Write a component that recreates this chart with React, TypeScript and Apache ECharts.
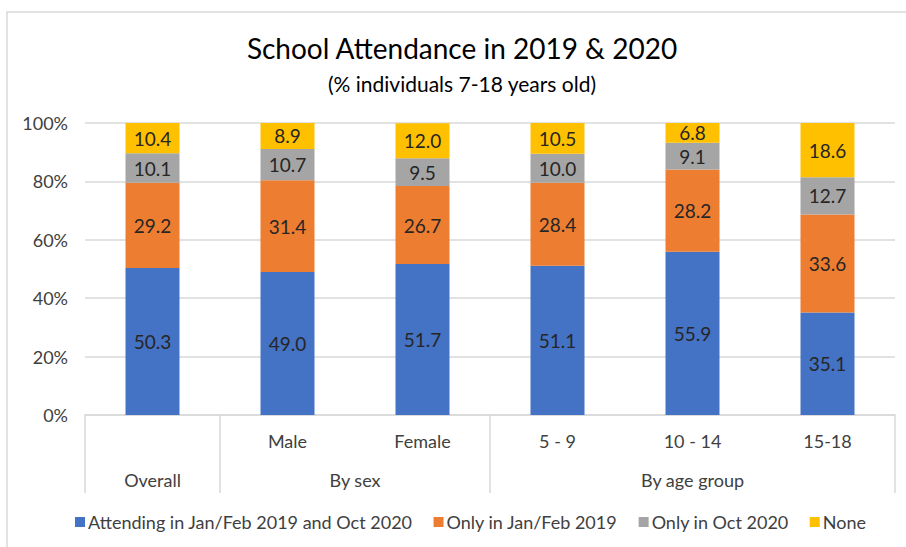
import React, { useEffect, useRef } from "react";
import * as echarts from "echarts";

const titleText = "School Attendance in 2019 & 2020";
const subtitleText = "(% individuals 7-18 years old)";
const categories = ["", "Male", "Female", "5 - 9", "10 - 14", "15-18"];
const groups = [
  { label: "Overall", start: 0, end: 0 },
  { label: "By sex", start: 1, end: 2 },
  { label: "By age group", start: 3, end: 5 },
];
const seriesNames = [
  "Attending in Jan/Feb 2019 and Oct 2020",
  "Only in Jan/Feb 2019",
  "Only in Oct 2020",
  "None",
];
const attendingBoth = [50.3, 49.0, 51.7, 51.1, 55.9, 35.1];
const onlyJanFeb2019 = [29.2, 31.4, 26.7, 28.4, 28.2, 33.6];
const onlyOct2020 = [10.1, 10.7, 9.5, 10.0, 9.1, 12.7];
const none = [10.4, 8.9, 12.0, 10.5, 6.8, 18.6];
const seriesColors = ["#4472C4", "#ED7D31", "#A5A5A5", "#FFC000"];
const yMin = 0;
const yMax = 100;
const yInterval = 20;

const FONT = "Lato, 'Noto Sans', sans-serif";

export default function App() {
  const ref = useRef<HTMLDivElement>(null);
  useEffect(() => {
    document.body.style.margin = "0";
    if (!ref.current) return;
    const chart = echarts.init(ref.current, undefined, { renderer: "svg" });
    const values = [attendingBoth, onlyJanFeb2019, onlyOct2020, none];
    chart.setOption({
      animation: false,
      backgroundColor: "#ffffff",
      textStyle: { fontFamily: FONT },
      legend: {
        bottom: 11,
        left: 70,
        itemWidth: 10,
        itemHeight: 10,
        itemGap: 21,
        icon: "rect",
        textStyle: { fontFamily: FONT, fontSize: 18, color: "#404040", padding: [0, 0, 0, -2] },
        data: seriesNames,
      },
      grid: { left: 85, right: 11, top: 123, bottom: 132, containLabel: false },
      xAxis: {
        type: "category",
        data: categories,
        axisLine: { show: true, lineStyle: { color: "#d9d9d9", width: 1.5 } },
        axisTick: { show: false },
        axisLabel: { fontFamily: FONT, fontSize: 18, color: "#404040", margin: 17 },
      },
      yAxis: {
        type: "value",
        min: yMin,
        max: yMax,
        interval: yInterval,
        axisLabel: { fontFamily: FONT, fontSize: 18, color: "#404040", formatter: "{value}%", margin: 17 },
        axisLine: { show: false },
        axisTick: { show: false },
        splitLine: { lineStyle: { color: "#d9d9d9", width: 1.5 } },
      },
      series: seriesNames.map((name, i) => ({
        name,
        type: "bar",
        stack: "total",
        barWidth: "40%",
        data: values[i],
        itemStyle: { color: seriesColors[i] },
        label: {
          show: true,
          position: "inside",
          fontFamily: FONT,
          fontSize: 19,
          color: "#262626",
          formatter: (p: any) => Number(p.value).toFixed(1),
        },
      })),
    });

    const cx = (i: number) => chart.convertToPixel({ xAxisIndex: 0 }, i) as number;
    const band = cx(1) - cx(0);
    const y0 = chart.convertToPixel({ yAxisIndex: 0 }, 0) as number;
    const yEnd = y0 + 78;
    const boundaries: number[] = groups.map((g) => cx(g.start) - band / 2);
    boundaries.push(cx(groups[groups.length - 1].end) + band / 2);
    const graphics: any[] = [
      {
        type: "rect",
        shape: { x: 7, y: 12, width: 1000, height: 700 },
        style: { fill: "none", stroke: "#d9d9d9", lineWidth: 1.5 },
        silent: true,
      },
      {
        type: "text",
        x: 462,
        y: 48,
        style: {
          text: titleText,
          fontFamily: FONT,
          fontSize: 28,
          fill: "#000000",
          align: "center",
          verticalAlign: "middle",
        },
        silent: true,
      },
      {
        type: "text",
        x: 462,
        y: 83,
        style: {
          text: subtitleText,
          fontFamily: FONT,
          fontSize: 21,
          fill: "#000000",
          align: "center",
          verticalAlign: "middle",
        },
        silent: true,
      },
    ];
    boundaries.forEach((bx) => {
      graphics.push({
        type: "line",
        shape: { x1: bx, y1: y0, x2: bx, y2: yEnd },
        style: { stroke: "#d9d9d9", lineWidth: 1.5 },
        silent: true,
      });
    });
    groups.forEach((g) => {
      const center = (cx(g.start) + cx(g.end)) / 2;
      graphics.push({
        type: "text",
        x: center,
        y: y0 + 65,
        style: {
          text: g.label,
          fontFamily: FONT,
          fontSize: 18,
          fill: "#404040",
          align: "center",
          verticalAlign: "middle",
        },
        silent: true,
      });
    });
    chart.setOption({ graphic: graphics });

    return () => chart.dispose();
  }, []);
  return <div ref={ref} style={{ width: 906, height: 547, position: "absolute", left: 0, top: 0 }} />;
}
